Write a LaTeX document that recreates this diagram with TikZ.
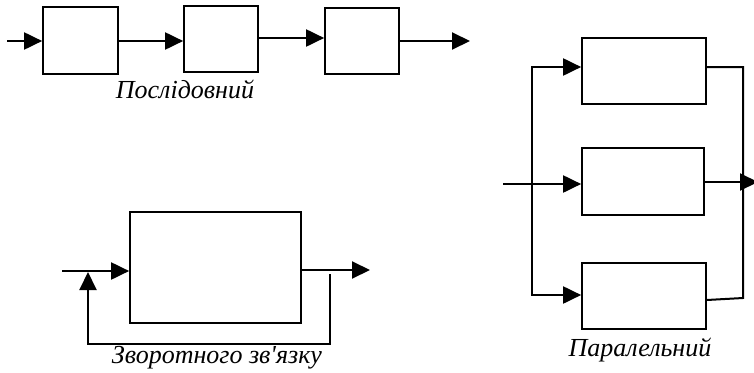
\documentclass[tikz,border=0pt]{standalone}
\usepackage{fontspec}
\setmainfont{Liberation Serif}
\usetikzlibrary{arrows.meta}
\begin{document}
\begin{tikzpicture}[x=1pt,y=-1pt,
  blk/.style={draw, line width=1.7pt, inner sep=0pt},
  wire/.style={line width=2pt},
  arr/.style={wire, -{Triangle[length=18pt,width=17pt]}},
  lbl/.style={font=\fontsize{26}{29}\selectfont\itshape, inner sep=0pt}]
\useasboundingbox (0,0) rectangle (754,372);
% --- series ---
\node[blk, minimum width=75pt, minimum height=67pt] (s1) at (80.5,40.5) {};
\node[blk, minimum width=74pt, minimum height=66pt] (s2) at (221,39) {};
\node[blk, minimum width=74pt, minimum height=66pt] (s3) at (362,41) {};
\coordinate (sin) at (7,41);
\coordinate (sout) at (470,41);
\coordinate (s12) at (0,41);
\coordinate (s23) at (0,38);
\draw[arr] (sin) -- (s1.west|-sin);
\draw[arr] (s1.east|-s12) -- (s2.west|-s12);
\draw[arr] (s2.east|-s23) -- (s3.west|-s23);
\draw[arr] (s3.east|-sout) -- (sout);
\node[lbl] (ls) at (185,89) {Послідовний};
% --- feedback ---
\node[blk, minimum width=171pt, minimum height=111pt] (f) at (215.5,267.5) {};
\coordinate (fin) at (62,271);
\coordinate (fout) at (370,270);
\coordinate (fa) at (330,274);
\coordinate (fb) at (88,272);
\draw[arr] (fin) -- (f.west|-fin);
\draw[arr] (f.east|-fout) -- (fout);
\draw[arr] (fa) -- ++(0,70) -| (fb);
\node[lbl] (lf) at (217,358) {Зворотного зв\textquotesingle язку};
% --- parallel ---
\node[blk, minimum width=124pt, minimum height=66pt] (p1) at (644,71) {};
\node[blk, minimum width=122pt, minimum height=67pt] (p2) at (643,181.5) {};
\node[blk, minimum width=124pt, minimum height=66pt] (p3) at (644,296) {};
\coordinate (pin) at (503,184);
\coordinate (bus) at (532,184);
\coordinate (b1) at (532,67);
\coordinate (b3) at (532,295);
\coordinate (r1) at (743,67);
\coordinate (r3) at (743,298);
\coordinate (r3b) at (0,300);
\coordinate (pout) at (758,182);
\draw[wire] (pin) -- (bus);
\draw[arr] (bus) -- (p2.west|-pin);
\draw[arr] (bus) -- (b1) -- (p1.west|-b1);
\draw[arr] (bus) -- (b3) -- (p3.west|-b3);
\draw[wire] (p1.east|-r1) -- (r1) -- (r3) -- (p3.east|-r3b);
\draw[arr] (p2.east|-pout) -- (pout);
\node[lbl] (lp) at (640,350) {Паралельний};
\end{tikzpicture}
\end{document}
